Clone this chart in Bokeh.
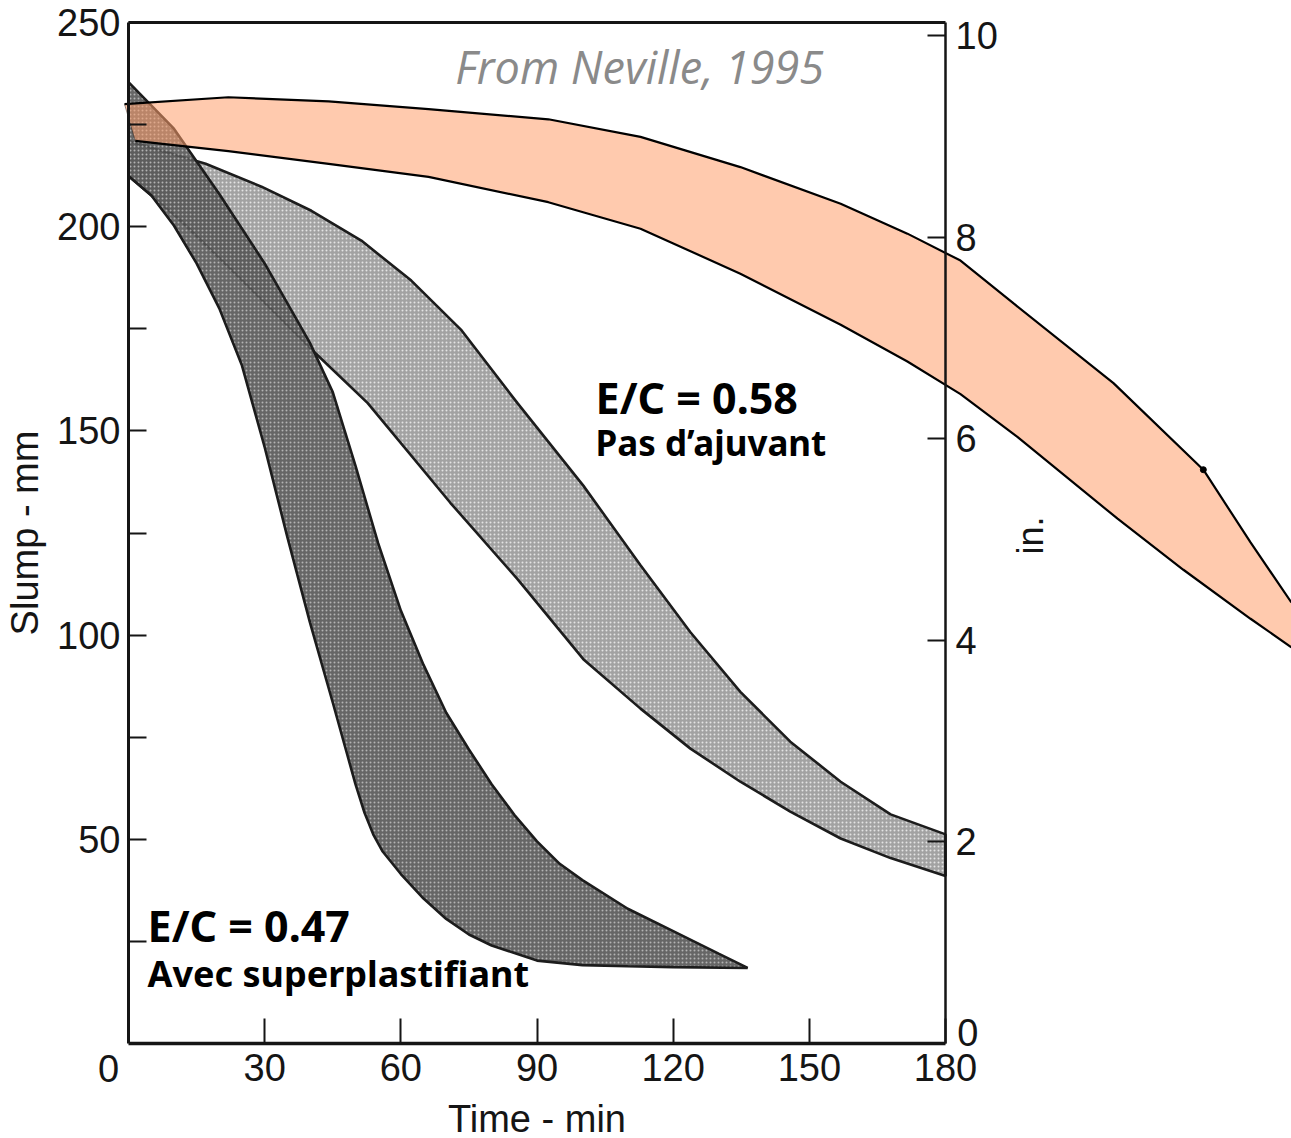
import numpy as np
from bokeh.plotting import figure
from bokeh.models import LinearAxis, Range1d, FixedTicker
from bokeh.core.properties import value
from bokeh.embed import file_html
from bokeh.resources import INLINE

# Slump loss bands, time in minutes, slump in mm
# W/C 0.47 with superplasticizer (dark band)
sp_t_upper = [0, 10, 20, 30, 40, 45, 50, 55, 60, 65, 70, 75, 80, 85, 90, 95, 100, 110, 120, 130, 136.4]
sp_mm_upper = [235.4, 224, 208, 191, 171.5, 159.5, 141.5, 122.5, 106, 92.7, 81, 72, 63.5, 56, 49.5, 44, 40, 33, 27.5, 22, 18.5]
sp_t_lower = [0, 5, 10, 15, 20, 25, 30, 35, 40, 45, 48, 50, 52, 54, 56, 60, 65, 70, 75, 80, 90, 100, 110, 120, 136.4]
sp_mm_lower = [212.4, 207.7, 200.3, 191, 180, 166, 146, 124, 103, 83.5, 71.5, 63.5, 56.5, 51, 47, 41.5, 35.5, 30.5, 26.7, 24, 20.3, 19.2, 18.9, 18.7, 18.5]

# W/C 0.58 without admixture (light band)
na_t_upper = [0, 17, 29.3, 40.3, 51.3, 62.3, 73.4, 85.7, 100.2, 112.8, 123.8, 134.8, 145.8, 156.9, 167.9, 180]
na_mm_upper = [221, 215.4, 209.8, 203.9, 196.6, 186.8, 174.6, 156.8, 136.6, 117.1, 100.7, 86.1, 73.9, 64.1, 56.1, 51.2]
na_t_lower = [0, 11, 22, 30.8, 41.2, 52.7, 70.9, 85.7, 100.2, 112.8, 123.8, 134.8, 145.8, 156.9, 167.9, 180]
na_mm_lower = [212.4, 202, 190.2, 180.5, 169, 156.8, 132.4, 113.7, 94.1, 82, 72.2, 64.1, 56.8, 50.2, 45.4, 41]

# Overlaid comparison band (orange)
ov_t_upper = [-0.88, 22, 44.1, 66.1, 92.5, 112.8, 134.8, 156.9, 171.6, 183.3, 195, 217, 236.8, 247.2, 256.2]
ov_mm_upper = [230, 231.7, 230.7, 228.8, 226.3, 222, 214.6, 205.6, 198.3, 191.7, 181.2, 161.7, 140.5, 122.7, 108]
ov_t_lower = [1.5, 22, 44.1, 66.1, 92.5, 112.8, 134.8, 156.9, 171.6, 183.3, 195.9, 217.9, 232.4, 247.2, 256.2]
ov_mm_lower = [221, 218.5, 215.4, 212.2, 206, 199.5, 188.5, 176, 167, 159, 148.5, 128.5, 116, 104, 97]

# Axis ticks (the shared origin "0" labels are placed separately)
time_ticks = [30, 60, 90, 120, 150, 180]
slump_ticks = [50, 100, 150, 200, 250]
slump_minor = [25, 75, 125, 175, 225]
inch_ticks = [2, 4, 6, 8, 10]


def closed(t_up, y_up, t_lo, y_lo):
    return list(t_up) + list(t_lo)[::-1], list(y_up) + list(y_lo)[::-1]


# the data frame covers the whole canvas; the chart box is drawn by the axes
PX_PER_MIN = 4.539
PX_PER_MM = 4.084
PX_PER_IN = 100.8
X0, Y0, W, H = 128, 1043, 1291, 1138
TOP_IN = 250 * PX_PER_MM / PX_PER_IN

p = figure(width=W, height=H,
           x_range=Range1d(-X0 / PX_PER_MIN, (W - X0) / PX_PER_MIN),
           y_range=Range1d(-(H - Y0) / PX_PER_MM, Y0 / PX_PER_MM),
           x_axis_location=None, y_axis_location=None,
           toolbar_location=None, output_backend="svg", min_border=0)
p.extra_y_ranges = {"inch": Range1d(-(H - Y0) / PX_PER_IN, Y0 / PX_PER_IN)}
p.grid.grid_line_color = None
p.outline_line_color = None
p.background_fill_color = "white"
p.border_fill_color = "white"

EDGE = "#1c1c1c"

# light band
xs, ys = closed(na_t_upper, na_mm_upper, na_t_lower, na_mm_lower)
p.patch(xs, ys, fill_color="#a2a2a2", line_color=EDGE, line_width=2.6,
        hatch_pattern="dot", hatch_color="white", hatch_scale=4,
        hatch_weight=1.3, hatch_alpha=0.7)

# dark band
xs, ys = closed(sp_t_upper, sp_mm_upper, sp_t_lower, sp_mm_lower)
p.patch(xs, ys, fill_color="#555555", fill_alpha=0.9, line_color=EDGE, line_width=2.6,
        hatch_pattern="dot", hatch_color="white", hatch_scale=4,
        hatch_weight=1.1, hatch_alpha=0.5)

# orange band
xs, ys = closed(ov_t_upper, ov_mm_upper, ov_t_lower, ov_mm_lower)
p.patch(xs, ys, fill_color="#ff9e6b", fill_alpha=0.55, line_color=None)
p.line(ov_t_upper, ov_mm_upper, line_color="black", line_width=2.2)
p.line(ov_t_lower, ov_mm_lower, line_color="black", line_width=2.2)
p.line([ov_t_upper[0], ov_t_lower[0]], [ov_mm_upper[0], ov_mm_lower[0]],
       line_color="black", line_width=1.0, line_alpha=0.4)
# pen blot where the upper edge bends
p.scatter([ov_t_upper[12]], [ov_mm_upper[12]], size=6, color="black")

FONT = "Liberation Sans"
INK = "#151515"


def style(ax, tick_in):
    ax.axis_line_color = INK
    ax.axis_line_width = 3
    ax.major_tick_line_color = INK
    ax.major_tick_line_width = 2
    ax.major_tick_in = tick_in
    ax.major_tick_out = 0
    ax.minor_tick_line_color = INK
    ax.minor_tick_line_width = 2
    ax.minor_tick_in = tick_in
    ax.minor_tick_out = 0
    ax.major_label_text_font = FONT
    ax.major_label_text_font_size = "38px"
    ax.major_label_text_color = INK
    ax.axis_label_text_font = FONT
    ax.axis_label_text_font_size = "38px"
    ax.axis_label_text_font_style = "normal"
    ax.axis_label_text_color = INK


left = LinearAxis(fixed_location=0, bounds=(0, 250),
                  ticker=FixedTicker(ticks=slump_ticks, minor_ticks=slump_minor),
                  axis_label="Slump - mm")
style(left, 18)
left.major_label_standoff = 8
left.axis_label_standoff = 8
p.add_layout(left, "left")

bottom = LinearAxis(fixed_location=0, bounds=(0, 180),
                    ticker=FixedTicker(ticks=time_ticks, minor_ticks=[]),
                    axis_label="Time - min")
style(bottom, 25)
bottom.axis_line_width = 3.5
bottom.major_label_standoff = 10
bottom.axis_label_standoff = 14
p.add_layout(bottom, "below")

right = LinearAxis(y_range_name="inch", fixed_location=180, bounds=(0, TOP_IN),
                   ticker=FixedTicker(ticks=inch_ticks, minor_ticks=[]))
style(right, 18)
right.axis_line_width = 2.5
right.major_label_standoff = 10
p.add_layout(right, "right")

top = LinearAxis(fixed_location=250, bounds=(0, 180),
                 ticker=FixedTicker(ticks=[], minor_ticks=[]))
style(top, 0)
p.add_layout(top, "above")

# origin labels: time 0 below the corner, inch 0 beside it
p.text(x=[-4.4], y=[-6.0], text=["0"], text_align="center", text_baseline="alphabetic",
       text_font=value(FONT), text_font_size="38px", text_color=INK)
p.text(x=[182.6], y=[2.6], text=["0"], text_align="left", text_baseline="alphabetic",
       text_font=value(FONT), text_font_size="38px", text_color=INK)

# right-hand unit label
p.text(x=[198.8], y=[124.4], text=["in."], angle=np.pi / 2,
       text_align="center", text_baseline="middle",
       text_font=value(FONT), text_font_size="36px", text_color=INK)

# annotations
ANN = "Noto Sans"
p.text(x=[102.9], y=[158.3], text=["E/C = 0.58"], text_font=value(ANN),
       text_font_style="bold", text_font_size="43px", text_color="black",
       text_baseline="alphabetic", text_align="left")
p.text(x=[102.9], y=[147.1], text=["Pas d\u2019ajuvant"], text_font=value(ANN),
       text_font_style="bold", text_font_size="35px", text_color="black",
       text_baseline="alphabetic", text_align="left")
p.text(x=[4.2], y=[28.8], text=["E/C = 0.47"], text_font=value(ANN),
       text_font_style="bold", text_font_size="43px", text_color="black",
       text_baseline="alphabetic", text_align="left")
p.text(x=[4.2], y=[17.1], text=["Avec superplastifiant"], text_font=value(ANN),
       text_font_style="bold", text_font_size="36px", text_color="black",
       text_baseline="alphabetic", text_align="left")
p.text(x=[72.0], y=[239.3], text=["From Neville, 1995"], text_font=value("Open Sans"),
       text_font_style="italic", text_font_size="45px", text_color="#8a8a8a",
       text_baseline="alphabetic", text_align="left")

open("out.html", "w").write(file_html(p, INLINE))
